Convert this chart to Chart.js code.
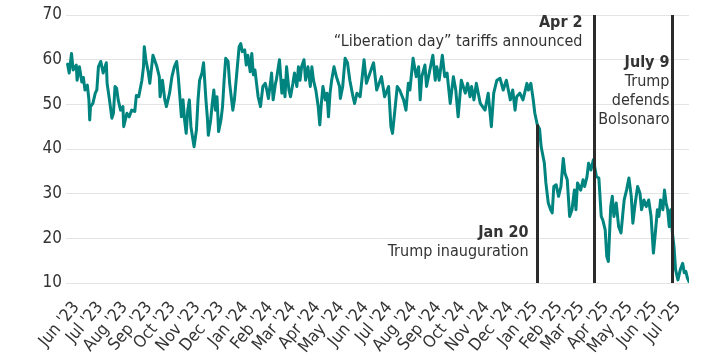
<!DOCTYPE html>
<html>
<head>
<meta charset="utf-8">
<script src="https://cdn.jsdelivr.net/npm/chart.js@4/dist/chart.umd.min.js"></script>
<style>
html,body{margin:0;padding:0;background:#ffffff;}
#wrap{width:720px;height:360px;}
</style>
</head>
<body>
<div id="wrap"><canvas id="c" width="720" height="360"></canvas></div>
<script>
// x values: days since 1 June 2023
const days = [
  5,7,10,12,16,17,20,23,25,27,
  30,32,33,34,37,40,42,44,47,50,
  54,55,58,61,63,65,67,69,72,75,
  76,80,83,86,90,92,95,99,101,102,
  104,107,109,113,118,121,122,125,128,130,
  134,137,140,143,145,147,149,151,153,155,
  157,159,161,165,168,170,172,175,177,180,
  182,183,186,188,190,192,194,196,199,201,
  203,205,208,210,214,216,219,222,224,226,
  229,231,233,236,238,240,242,244,246,249,
  252,255,257,259,262,263,265,268,269,273,
  276,278,280,282,285,287,290,292,295,297,
  299,301,304,306,309,312,314,316,319,322,
  324,326,328,331,333,335,337,339,342,345,
  349,350,353,356,359,362,366,368,371,375,
  380,383,392,396,402,406,411,414,416,419,
  422,425,430,433,436,438,442,446,449,451,
  453,457,459,467,470,472,475,479,482,485,
  489,493,496,499,503,508,511,514,516,519,
  522,527,533,537,541,544,548,552,556,560,
  565,568,571,573,577,581,586,588,591,594,
  596,599,602,604,608,610,613,616,618,620,
  623,626,629,632,634,637,640,643,646,648,
  650,654,657,659,662,664,667,670,674,677,
  680,682,685,687,689,692,694,696,699,702,
  705,707,709,712,715,718,720,723,726,729,
  731,734,737,740,743,746,748,751,753,755,
  758,760,762,764,766,768,770,772,774,777,
  780,783,785,787,789,791
];
const values = [
  59,57,61.4,57.7,58.8,55.4,58.4,55,56,53.2,
  54.3,51,46.5,49.5,50.2,52.5,53.2,58.4,59.6,57,
  59.3,54.7,51,46.9,48,54,53.6,51,48.7,49.5,
  45,48,47.2,48.7,48.4,52,51.7,55.4,58.4,62.9,
  60,57.3,54.7,61,58.4,56.2,51.7,55.4,51,49.5,
  52.5,56.2,58.4,59.6,56.2,51.7,47.2,51,46.5,43.5,
  48.7,51,45,40.5,44.3,51,55.4,57,59.3,51,
  46.5,43.1,46.5,50.2,53.2,48.7,51.7,43.9,46.5,49.5,
  55.4,60.3,59.6,54.7,48.7,51,57,62.9,63.6,61.8,
  62.2,58.8,61,57.3,61.4,56.6,57.7,54.7,51.7,49.5,
  54,54.7,53.2,51.3,55.4,57,51,54.7,55.4,60,
  52.5,55.4,51.7,58.4,53.2,51.7,54.7,57,54,58.4,
  55.4,58.4,60,55.4,58.4,54,58.4,55.4,53.2,49.5,
  45.4,50.2,54,51,52.5,47.2,52.5,55.4,58.4,56.2,
  54,51.3,54,60.3,59.3,55.4,51.7,50.2,52.5,51.7,
  60,54.7,59.3,53.2,56.2,51.7,54,45,43.5,48.7,
  54,53.2,51,48.7,54.7,53.2,60.3,56.2,58.4,51,
  56.2,58.8,54,61,55.4,58.4,55.4,61,56.2,57,
  50.2,56.2,53.2,47.2,55.4,52.5,54.7,51.7,54,51,
  54.7,50.2,48.7,52.5,45,52.5,55.4,55.8,53.2,55.4,
  51,53.2,48.7,51.7,52.5,51,54.7,53.2,54.7,51,
  48,45.5,44.5,40.5,36.9,32.4,27.9,26.4,25.7,31.6,
  32,29.4,31.6,37.9,34.6,33.1,24.9,26.4,30.8,26.4,
  32.4,30.8,33.1,31.6,33.8,36.8,35.3,37.6,33.8,33.5,
  24.9,24.1,21.9,15.9,14.8,27.1,29.4,24.9,27.9,22.6,
  21.2,24.9,28.6,30.8,33.5,29.4,23.4,27.9,31.6,30.1,
  26.4,28.6,27.1,28.6,24.9,16.7,20.4,26.4,24.9,28.6,
  26.4,30.8,27.9,26.4,22.6,26.4,21.2,18.2,13,10.7,
  13,14.4,12.3,12.6,11.1,10.3
];
const monthStartDays = [0,30,61,92,122,153,183,214,245,274,305,335,366,396,427,458,488,519,549,580,611,639,670,700,731,761];
const monthLabels = ["Jun '23","Jul '23","Aug '23","Sep '23","Oct '23","Nov '23","Dec '23",
  "Jan '24","Feb '24","Mar '24","Apr '24","May '24","Jun '24","Jul '24","Aug '24","Sep '24","Oct '24","Nov '24","Dec '24",
  "Jan '25","Feb '25","Mar '25","Apr '25","May '25","Jun '25","Jul '25"];
const yTickLabels = [10,20,30,40,50,60,70];
const eventDays = [599, 671, 769];
const eventTopValues = [45.5, 70, 70];
const eventTitles = ["Jan 20", "Apr 2", "July 9"];
const eventNotes = [["Trump inauguration"], ["\u201CLiberation day\u201D tariffs announced"], ["Trump", "defends", "Bolsonaro"]];

const FONT = '"DejaVu Sans Condensed", "DejaVu Sans", sans-serif';
const TEXT = '#333333';
const LINE = '#00847f';
const TICK_SHIFT = 16;

// annotation layout (pixel offsets)
const annoLayout = [
  {dx: -9, titleY: 237, lineGap: 19},
  {dx: -12, titleY: 27, lineGap: 18.5},
  {dx: -3, titleY: 67, lineGap: 19}
];

const eventPlugin = {
  id: 'events',
  afterDatasetsDraw(chart) {
    const {ctx, scales: {x, y}, chartArea} = chart;
    ctx.save();
    eventDays.forEach((d, i) => {
      const px = Math.round(x.getPixelForValue(d)) + 0.5;
      ctx.strokeStyle = '#2b2b2b';
      ctx.lineWidth = 3;
      ctx.beginPath();
      ctx.moveTo(px, y.getPixelForValue(eventTopValues[i]));
      ctx.lineTo(px, chartArea.bottom);
      ctx.stroke();
      const L = annoLayout[i];
      ctx.fillStyle = TEXT;
      ctx.textAlign = 'right';
      ctx.textBaseline = 'alphabetic';
      ctx.font = 'bold 16px ' + FONT;
      ctx.fillText(eventTitles[i], px + L.dx, L.titleY);
      ctx.font = '16px ' + FONT;
      eventNotes[i].forEach((t, j) => {
        ctx.fillText(t, px + L.dx, L.titleY + L.lineGap * (j + 1));
      });
    });
    ctx.restore();
  }
};

new Chart(document.getElementById('c'), {
  type: 'line',
  data: {
    datasets: [{
      data: days.map((d, i) => ({x: d, y: values[i]})),
      borderColor: LINE,
      borderWidth: 3,
      pointRadius: 0,
      tension: 0,
      fill: false,
      borderJoinStyle: 'round',
      borderCapStyle: 'round'
    }]
  },
  options: {
    responsive: false,
    animation: false,
    devicePixelRatio: 1,
    layout: {padding: {top: 15, right: 31, left: 0, bottom: 0}},
    plugins: {legend: {display: false}, tooltip: {enabled: false}},
    scales: {
      x: {
        type: 'linear',
        min: 3,
        max: 791,
        afterBuildTicks: (s) => { s.ticks = monthStartDays.map(d => ({value: d + TICK_SHIFT})); },
        afterFit: (s) => { s.height = 77; },
        grid: {display: false, drawTicks: false},
        border: {display: false},
        ticks: {
          autoSkip: false,
          minRotation: 50,
          maxRotation: 50,
          padding: 15,
          color: TEXT,
          font: {family: FONT, size: 17},
          callback: (v, i) => monthLabels[i]
        }
      },
      y: {
        min: 10,
        max: 70,
        afterFit: (s) => { s.width = 66; },
        afterBuildTicks: (s) => {
          const t = [];
          for (let v = 10; v <= 70; v += 5) t.push({value: v});
          s.ticks = t;
        },
        grid: {color: '#e4e4e4', lineWidth: 1, drawTicks: false},
        border: {display: false},
        ticks: {
          padding: 4,
          color: TEXT,
          font: {family: FONT, size: 17},
          callback: (v) => yTickLabels.includes(v) ? String(v) : ''
        }
      }
    }
  },
  plugins: [eventPlugin]
});
</script>
</body>
</html>
